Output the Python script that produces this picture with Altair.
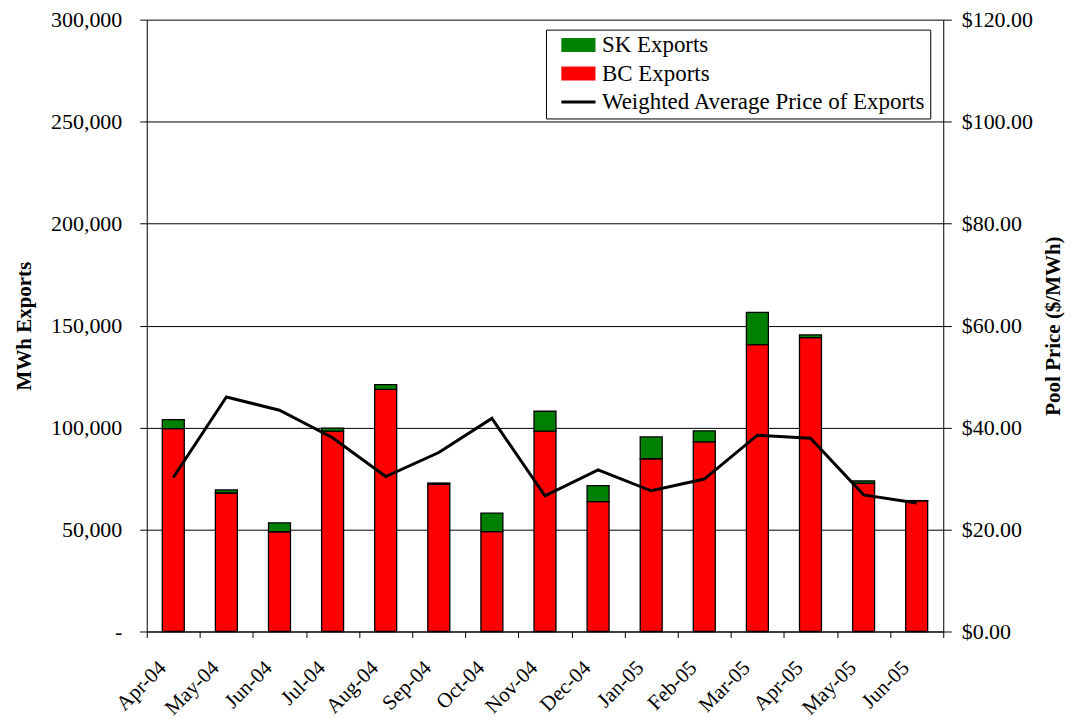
import altair as alt
import pandas as pd

months = ["Apr-04", "May-04", "Jun-04", "Jul-04", "Aug-04", "Sep-04", "Oct-04", "Nov-04",
          "Dec-04", "Jan-05", "Feb-05", "Mar-05", "Apr-05", "May-05", "Jun-05"]
bc_exports = [99500, 67900, 48900, 98200, 118700, 72200, 49000, 98200,
              63700, 84700, 93000, 140700, 144100, 72600, 64000]
sk_exports = [4400, 1500, 4400, 1500, 2300, 600, 9000, 9800,
              7800, 10700, 5400, 15800, 1300, 1200, 200]
avg_price = [30.2, 46.0, 43.4, 38.0, 30.4, 35.1, 41.8, 26.6,
             31.7, 27.6, 29.9, 38.5, 37.9, 26.8, 25.2]

series_names = ["SK Exports", "BC Exports", "Weighted Average Price of Exports"]
series_colors = ["#008000", "#FF0000", "#000000"]
legend_shapes = ["M-1.65,-0.64H1.65V0.64H-1.65Z", "M-1.65,-0.64H1.65V0.64H-1.65Z",
                 "M-1.65,-0.1H1.65V0.1H-1.65Z"]

FONT = "Liberation Serif"

rows = []
for m, b, s in zip(months, bc_exports, sk_exports):
    rows.append({"month": m, "series": "BC Exports", "mwh": b, "ord": 0})
    rows.append({"month": m, "series": "SK Exports", "mwh": s, "ord": 1})
bars_df = pd.DataFrame(rows)
price_df = pd.DataFrame({"month": months, "price": avg_price,
                         "series": series_names[2]})
legend_df = pd.DataFrame({"series": series_names})

color_scale = alt.Scale(domain=series_names, range=series_colors)

legend_spec = dict(
    title=None, orient="none", legendX=400, legendY=10, direction="vertical",
    fillColor="white", strokeColor="black", padding=4, symbolOffset=17,
    symbolSize=400, symbolOpacity=1, symbolStrokeColor="black", symbolStrokeWidth=1.2,
    labelFont=FONT, labelFontSize=23, labelColor="black", labelOffset=12,
    labelLimit=500, rowPadding=4.5,
)

x_enc = alt.X(
    "month:N", sort=months,
    scale=alt.Scale(paddingInner=0, paddingOuter=0),
    axis=alt.Axis(title=None, labelAngle=-45, labelAlign="right", labelBaseline="middle",
                  labelOffset=-11, labelPadding=27, tickBand="extent", tickSize=6,
                  labelFontSize=21, labelFont=FONT, labelColor="black",
                  domainColor="black", tickColor="black", grid=False),
)

bars = alt.Chart(bars_df).mark_bar(size=22, stroke="black", strokeWidth=1.3).encode(
    x=x_enc,
    y=alt.Y("mwh:Q", stack="zero",
            scale=alt.Scale(domain=[0, 300000], nice=False),
            axis=alt.Axis(orient="left", title="MWh Exports",
                          values=[0, 50000, 100000, 150000, 200000, 250000, 300000],
                          labelExpr="datum.value == 0 ? '-' : format(datum.value, ',')",
                          grid=True, gridColor="black", gridWidth=1,
                          tickSize=7, labelPadding=18, titlePadding=16,
                          labelFontSize=22, labelFont=FONT, labelColor="black",
                          titleFont=FONT, titleFontSize=21, titleFontWeight="bold",
                          titleColor="black", domainColor="black", tickColor="black")),
    color=alt.Color("series:N", scale=color_scale, sort=series_names,
                    legend=alt.Legend(**legend_spec)),
    order=alt.Order("ord:Q"),
)

line = alt.Chart(price_df).mark_line(strokeWidth=3).encode(
    x=alt.X("month:N", sort=months),
    y=alt.Y("price:Q",
            scale=alt.Scale(domain=[0, 120], nice=False),
            axis=alt.Axis(orient="right", title="Pool Price ($/MWh)", format="$,.2f",
                          values=[0, 20, 40, 60, 80, 100, 120],
                          grid=False, tickSize=8, labelPadding=10, titlePadding=10,
                          titleAngle=270, titleBaseline="top",
                          labelFontSize=22, labelFont=FONT, labelColor="black",
                          titleFont=FONT, titleFontSize=21, titleFontWeight="bold",
                          titleColor="black", domainColor="black", tickColor="black")),
    color=alt.Color("series:N", scale=color_scale, sort=series_names,
                    legend=alt.Legend(**legend_spec)),
)

legend_layer = alt.Chart(legend_df).mark_point(opacity=0, filled=True).encode(
    color=alt.Color("series:N", scale=color_scale, sort=series_names,
                    legend=alt.Legend(**legend_spec)),
    shape=alt.Shape("series:N", sort=series_names,
                    scale=alt.Scale(domain=series_names, range=legend_shapes),
                    legend=alt.Legend(**legend_spec)),
)

chart = alt.layer(legend_layer, bars, line).resolve_scale(y="independent").properties(
    width=798, height=613,
    padding={"left": 5, "top": 0, "right": 5, "bottom": 5},
    background="white",
).configure_view(stroke=None)

chart.save("out.html", embed_options={"renderer": "svg", "actions": False})
